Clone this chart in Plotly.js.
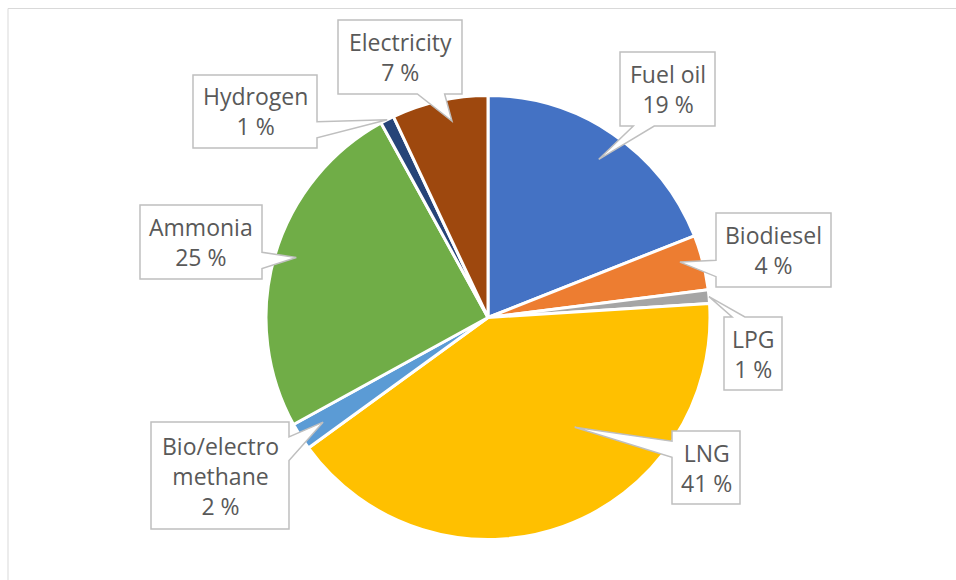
<!DOCTYPE html>
<html><head><meta charset="utf-8">
<script src="https://cdn.plot.ly/plotly-3.0.1.min.js"></script>
<style>html,body{margin:0;padding:0;background:#fff}#chart{width:956px;height:580px}</style>
</head><body><div id="chart"></div>
<script>
// ---- data ----
const categories = ["Fuel oil", "Biodiesel", "LPG", "LNG", "Bio/electro<br>methane", "Ammonia", "Hydrogen", "Electricity"];
const shares = [19, 4, 1, 41, 2, 25, 1, 7];
const sliceColors = ["#4472C4", "#ED7D31", "#A5A5A5", "#FFC000", "#5B9BD5", "#70AD47", "#264478", "#9E480E"];

// ---- layout of callouts (pixel boxes [x0,y0,x1,y1]) ----
const boxes = [
  [620, 52, 715, 126],
  [716, 213, 831, 287],
  [724, 317, 782, 390],
  [672, 431, 740, 504],
  [151, 422, 289, 529],
  [140, 205, 262, 279],
  [193, 75, 317, 148],
  [338, 20, 462, 94]
];
const tipRadius = [0.87, 0.90, 1.0, 0.63, 0.88, 0.905, 1.0, 0.90];
const tipShift = [0.8, -1.7, 0, -18.5, 0, 1.2, 0, 2.2];

const W = 956, H = 580, CX = 488, CY = 317.5, R = 222;
const px = x => x / W, py = y => 1 - y / H;

const total = shares.reduce((a, b) => a + b, 0);
let cum = 0; const mids = [];
shares.forEach(v => { mids.push((cum + v / 2) / total * 360); cum += v; });

function calloutPath(b, tx, ty) {
  const [x0, y0, x1, y1] = b;
  const w = x1 - x0, h = y1 - y0, cxb = (x0 + x1) / 2, cyb = (y0 + y1) / 2;
  const d = { l: x0 - tx, r: tx - x1, t: y0 - ty, b: ty - y1 };
  let edge = 'l', best = -1e9;
  for (const k in d) if (d[k] > best) { best = d[k]; edge = k; }
  const pts = [];
  const P = (x, y) => pts.push([x, y]);
  P(x0, y0);
  if (edge === 't') { const hw = 0.11 * w, bc = tx < cxb ? x0 + 0.25 * w : x1 - 0.25 * w; P(bc - hw, y0); P(tx, ty); P(bc + hw, y0); }
  P(x1, y0);
  if (edge === 'r') { const hw = 0.11 * h, bc = ty < cyb ? y0 + 0.25 * h : y1 - 0.25 * h; P(x1, bc - hw); P(tx, ty); P(x1, bc + hw); }
  P(x1, y1);
  if (edge === 'b') { const hw = 0.11 * w, bc = tx < cxb ? x0 + 0.25 * w : x1 - 0.25 * w; P(bc + hw, y1); P(tx, ty); P(bc - hw, y1); }
  P(x0, y1);
  if (edge === 'l') { const hw = 0.11 * h, bc = ty < cyb ? y0 + 0.25 * h : y1 - 0.25 * h; P(x0, bc + hw); P(tx, ty); P(x0, bc - hw); }
  return pts.map((p, i) => (i ? 'L' : 'M') + px(p[0]).toFixed(5) + ',' + py(p[1]).toFixed(5)).join(' ') + ' Z';
}

const shapes = [{
  type: 'rect', xref: 'paper', yref: 'paper', layer: 'below',
  x0: px(8), x1: px(1100), y0: py(700), y1: py(8.5),
  line: { color: '#D9D9D9', width: 1 }, fillcolor: 'rgba(0,0,0,0)'
}];
const annotations = [];
categories.forEach((c, i) => {
  const a = (mids[i] + tipShift[i]) * Math.PI / 180;
  const r = R * tipRadius[i];
  const tx = CX + r * Math.sin(a), ty = CY - r * Math.cos(a);
  shapes.push({
    type: 'path', xref: 'paper', yref: 'paper', layer: 'above',
    path: calloutPath(boxes[i], tx, ty),
    fillcolor: '#FFFFFF', line: { color: '#BFBFBF', width: 1.5 }
  });
  const b = boxes[i];
  annotations.push({
    xref: 'paper', yref: 'paper', x: px((b[0] + b[2]) / 2), y: py((b[1] + b[3]) / 2),
    xanchor: 'center', yanchor: 'middle', showarrow: false,
    text: c + '<br>' + shares[i] + ' %',
    font: { family: '"Open Sans", sans-serif', size: 23, color: '#595959' }
  });
});

const trace = {
  type: 'pie', values: shares, labels: categories, sort: false,
  direction: 'clockwise', rotation: 0, textinfo: 'none', hoverinfo: 'none',
  marker: { colors: sliceColors, line: { color: '#FFFFFF', width: 3 } },
  domain: { x: [px(CX - R), px(CX + R)], y: [py(CY + R), py(CY - R)] },
  showlegend: false
};

Plotly.newPlot('chart', [trace], {
  width: W, height: H, margin: { l: 0, r: 0, t: 0, b: 0 },
  paper_bgcolor: '#FFFFFF', showlegend: false,
  shapes: shapes, annotations: annotations
}, { staticPlot: true, displayModeBar: false });
</script>
</body></html>
